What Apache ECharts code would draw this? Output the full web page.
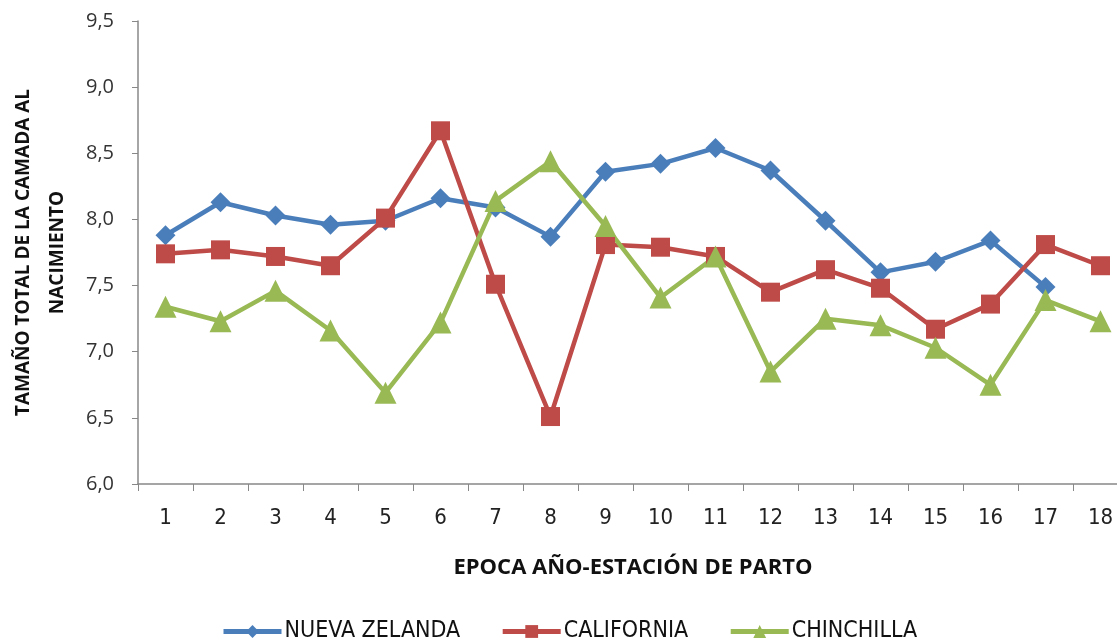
<!DOCTYPE html>
<html>
<head>
<meta charset="utf-8">
<script src="https://cdn.jsdelivr.net/npm/echarts@6/dist/echarts.min.js"></script>
<style>
  html, body { margin: 0; padding: 0; background: #fff; }
  #chart { width: 1117px; height: 644px; }
</style>
</head>
<body>
<div id="chart"></div>
<script>
// Época año-estación de parto
const epocas = ['1','2','3','4','5','6','7','8','9','10','11','12','13','14','15','16','17','18'];

// Tamaño total de la camada al nacimiento por raza
const nuevaZelanda = [7.88, 8.13, 8.03, 7.96, 7.99, 8.16, 8.09, 7.87, 8.36, 8.42, 8.54, 8.37, 7.99, 7.60, 7.68, 7.84, 7.49, null];
const california   = [7.74, 7.77, 7.72, 7.65, 8.01, 8.67, 7.51, 6.51, 7.81, 7.79, 7.72, 7.45, 7.62, 7.48, 7.17, 7.36, 7.81, 7.65];
const chinchilla   = [7.34, 7.23, 7.46, 7.16, 6.69, 7.22, 8.14, 8.44, 7.95, 7.41, 7.72, 6.85, 7.25, 7.20, 7.03, 6.75, 7.39, 7.23];

const yTicks = { min: 6.0, max: 9.5, step: 0.5 };

const chart = echarts.init(document.getElementById('chart'), null, { renderer: 'canvas' });

const narrowFont = '"Liberation Sans Narrow", "DejaVu Sans Condensed", "Roboto Condensed", sans-serif';
const valueFont = '"Open Sans", "DejaVu Sans", sans-serif';
const titleFont = '"Open Sans", "DejaVu Sans", sans-serif';

function serie(name, data, color, symbol, size) {
  return {
    name: name,
    type: 'line',
    data: data,
    symbol: symbol,
    symbolSize: size,
    showAllSymbol: true,
    connectNulls: false,
    lineStyle: { color: color, width: 4.5 },
    itemStyle: { color: color },
    animation: false
  };
}

chart.setOption({
  animation: false,
  grid: { left: 138, right: -11, top: 21, bottom: 160, containLabel: false, outerBoundsMode: 'none' },
  legend: {
    bottom: -4,
    left: 216,
    itemGap: 40,
    itemWidth: 58,
    itemHeight: 16,
    lineStyle: { width: 5 },
    textStyle: { fontFamily: narrowFont, fontSize: 23, color: '#111', padding: [0, 0, 0, -2] },
    data: ['NUEVA ZELANDA', 'CALIFORNIA', 'CHINCHILLA']
  },
  xAxis: {
    type: 'category',
    data: epocas,
    boundaryGap: true,
    name: 'EPOCA AÑO-ESTACIÓN DE PARTO',
    nameLocation: 'middle',
    nameGap: 73,
    nameTextStyle: { fontFamily: titleFont, fontSize: 22, fontWeight: 'bold', color: '#111' },
    axisLine: { lineStyle: { color: '#888', width: 1.5 } },
    axisTick: { show: true, length: 7, lineStyle: { color: '#888' } },
    axisLabel: { fontFamily: narrowFont, fontSize: 22, color: '#222', margin: 23 },
    splitLine: { show: false }
  },
  yAxis: {
    type: 'value',
    min: yTicks.min,
    max: yTicks.max,
    interval: yTicks.step,
    name: 'TAMAÑO TOTAL DE LA CAMADA AL\nNACIMIENTO',
    nameLocation: 'middle',
    nameRotate: 90,
    nameGap: 55,
    nameTextStyle: { fontFamily: titleFont, fontSize: 19, fontWeight: 'bold', color: '#111', lineHeight: 34, align: 'center' },
    axisLine: { show: true, lineStyle: { color: '#888', width: 1.5 } },
    axisTick: { show: true, length: 6, lineStyle: { color: '#888' } },
    axisLabel: {
      fontFamily: valueFont, fontSize: 20, color: '#333', margin: 24,
      formatter: v => v.toFixed(1).replace('.', ',')
    },
    splitLine: { show: false }
  },
  series: [
    serie('NUEVA ZELANDA', nuevaZelanda, '#4A7EBB', 'diamond', 20),
    serie('CALIFORNIA', california, '#BE4B48', 'rect', 19),
    serie('CHINCHILLA', chinchilla, '#98B954', 'triangle', 22)
  ]
});
</script>
</body>
</html>
